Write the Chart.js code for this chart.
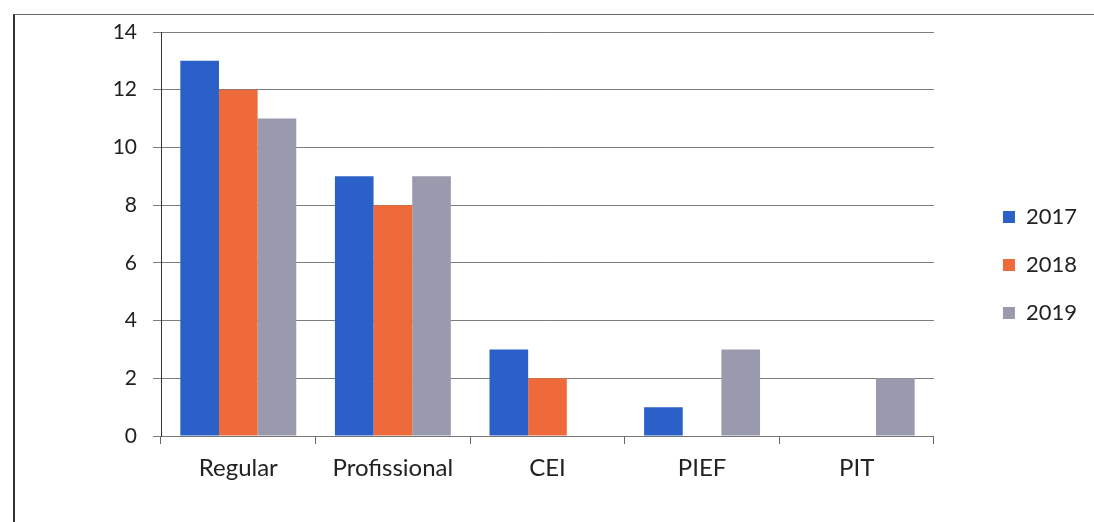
<!DOCTYPE html>
<html>
<head>
<meta charset="utf-8">
<script src="https://cdn.jsdelivr.net/npm/chart.js@4/dist/chart.umd.min.js"></script>
<style>
  body { margin: 0; background: #fff; }
  #frame { position: absolute; left: 13px; top: 14px; width: 1100px; height: 520px;
           border-left: 2px solid #333; border-top: 1px solid #666; }
  #wrap { position: absolute; left: 0; top: 0; width: 1094px; height: 522px; }
</style>
</head>
<body>
<div id="frame"></div>
<div id="wrap"><canvas id="chart" width="1094" height="522"></canvas></div>
<script>
const categories = ['Regular', 'Profissional', 'CEI', 'PIEF', 'PIT'];
const years = ['2017', '2018', '2019'];
const values2017 = [13, 9, 3, 1, 0];
const values2018 = [12, 8, 2, 0, 0];
const values2019 = [11, 9, 0, 3, 2];
const yTicks = [0, 2, 4, 6, 8, 10, 12, 14];

const colors = ['#2B60C8', '#EE6A3A', '#9A9AAE'];
const family = 'Lato, "Open Sans", sans-serif';

new Chart(document.getElementById('chart'), {
    type: 'bar',
    data: {
        labels: categories,
        datasets: [values2017, values2018, values2019].map((vals, i) => ({
            label: years[i],
            data: vals,
            backgroundColor: colors[i],
            borderWidth: 0,
            categoryPercentage: 0.75,
            barPercentage: 1.0
        }))
    },
    options: {
        responsive: false,
        animation: false,
        devicePixelRatio: 1,
        layout: { padding: { left: 14, right: 7, top: 32, bottom: 24 } },
        plugins: {
            tooltip: { enabled: false },
            legend: {
                position: 'right',
                labels: {
                    boxWidth: 12,
                    boxHeight: 12,
                    padding: 26,
                    color: '#222',
                    font: { family: family, size: 22 }
                }
            }
        },
        scales: {
            x: {
                grid: { drawOnChartArea: false, drawTicks: true, tickLength: 8, color: '#666' },
                border: { color: '#777' },
                ticks: { color: '#222', font: { family: family, size: 24 }, padding: 10 },
                afterFit: s => { s.height = 62; }
            },
            y: {
                min: 0,
                max: 14,
                afterBuildTicks: s => { s.ticks = yTicks.map(v => ({ value: v })); },
                grid: { color: '#7d7d7d', lineWidth: 1, tickLength: 8 },
                border: { color: '#333' },
                ticks: { color: '#222', font: { family: family, size: 21 }, padding: 16 },
                afterFit: s => { s.width = 147; }
            },
            spacer: {
                type: 'linear',
                position: 'right',
                grid: { display: false },
                ticks: { display: false },
                border: { display: false },
                afterFit: s => { s.width = 43; }
            }
        }
    }
});
</script>
</body>
</html>
